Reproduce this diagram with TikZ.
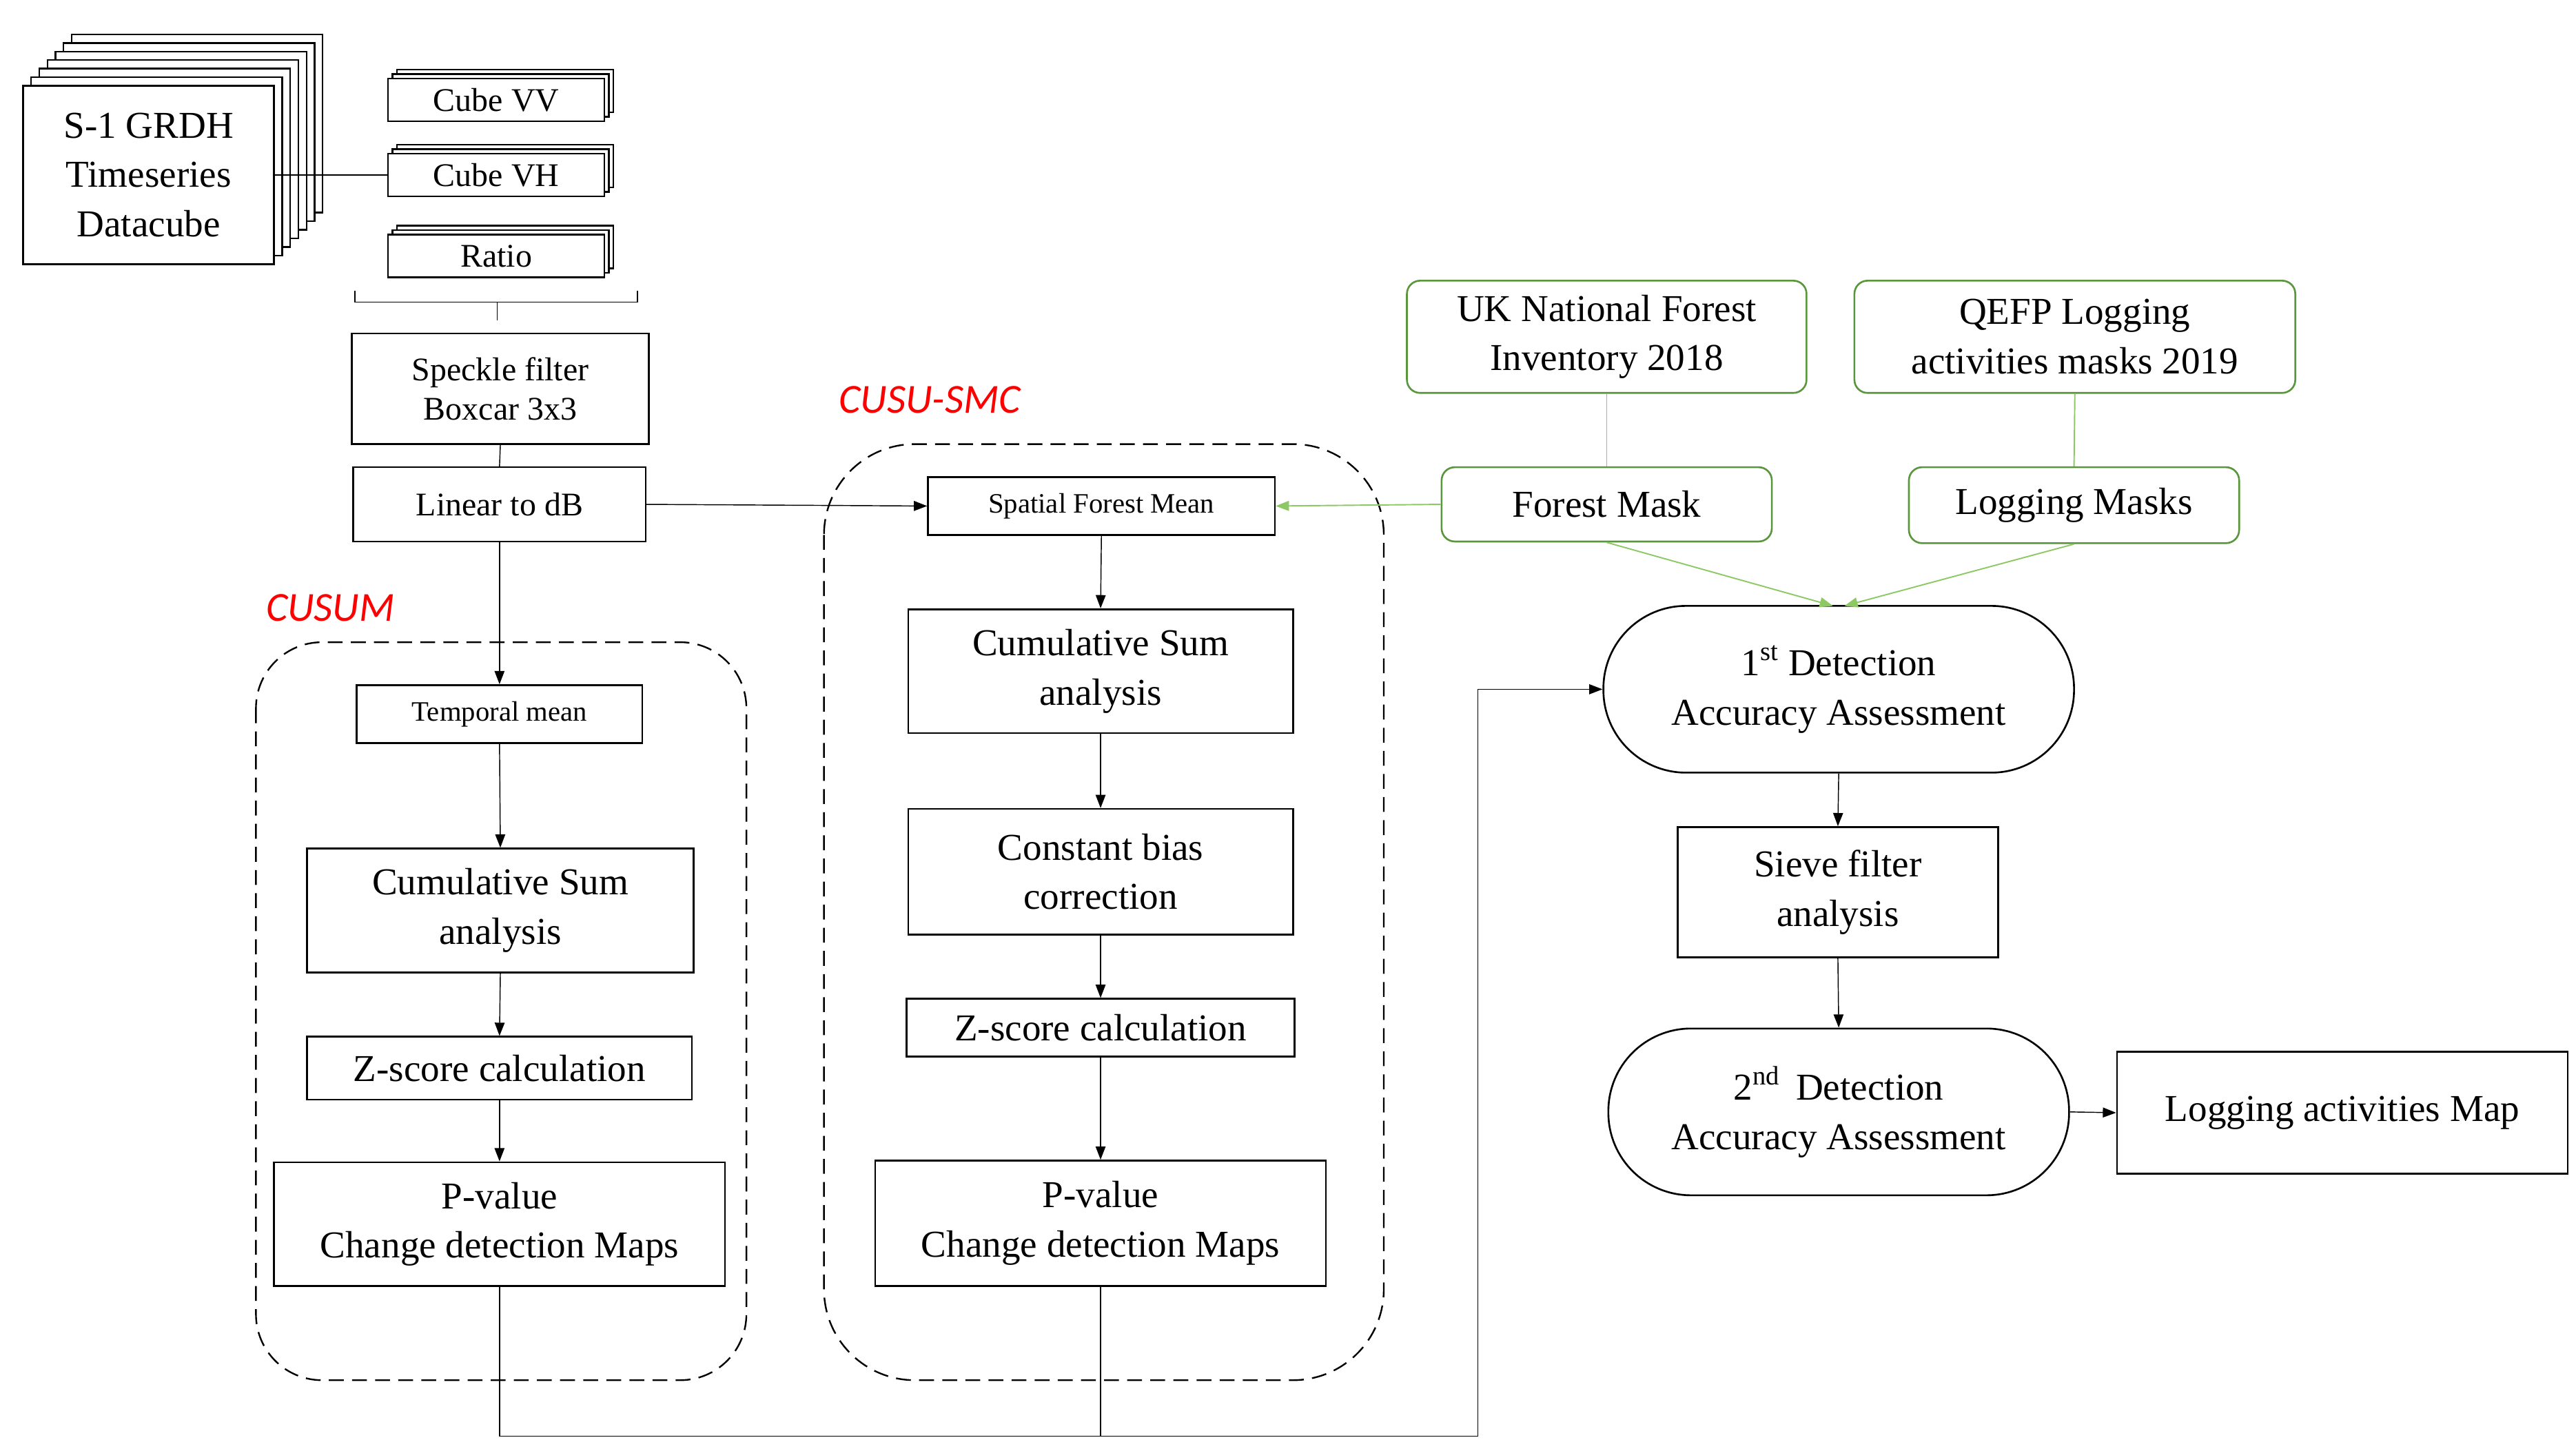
\documentclass[tikz,border=0pt]{standalone}
\usepackage{fontspec}
\setmainfont{Liberation Serif}
\newfontfamily\lblfont{Carlito}
\usetikzlibrary{arrows.meta}
\definecolor{gbord}{RGB}{90,150,60}
\definecolor{gline}{RGB}{140,200,100}
\begin{document}
\begin{tikzpicture}[x=1pt,y=-1pt,
  box/.style={draw,line width=1.1pt,fill=white,inner sep=0pt,align=center,font=\fontsize{23}{30}\selectfont},
  sbox/.style={box,font=\fontsize{17}{21}\selectfont},
  mbox/.style={box,font=\fontsize{20}{24}\selectfont},
  gbox/.style={draw=gbord,line width=1.1pt,rounded corners=8pt,inner sep=0pt,align=center,font=\fontsize{23}{30}\selectfont},
  pill/.style={box,rounded corners=50pt},
  arr/.style={-{Triangle[length=8pt,width=6pt]},line width=0.6pt},
  garr/.style={-{Triangle[length=8pt,width=6pt]},draw=gline,line width=0.8pt},
  ln/.style={line width=0.6pt},
  dbox/.style={draw,dashed,dash pattern=on 9pt off 5pt,line width=1pt},
  lbl/.style={font=\lblfont\itshape\fontsize{25}{30}\selectfont,text=red}]
\useasboundingbox (0,0) rectangle (1560,878.5);
% S-1 stack
\foreach \i in {6,5,...,1}
  \draw[line width=1pt,fill=white] ({14+4.9*\i},{52-5.2*\i}) rectangle ({166+4.9*\i},{160-5.2*\i});
\node[box,minimum width=152pt,minimum height=108pt] (s1) at (90,106) {S-1 GRDH\\Timeseries\\Datacube};
% cube stacks
\foreach \y/\n/\t in {60.5/cvv/Cube VV,106/cvh/Cube VH,155/rat/Ratio}{
  \foreach \i in {2,1}
    \draw[line width=1pt,fill=white] ({235+2.7*\i},{\y-13-2.7*\i}) rectangle ({366+2.7*\i},{\y+13-2.7*\i});
  \node[mbox,minimum width=131pt,minimum height=26pt] (\n) at (300.5,\y) {\t};
}
\draw[ln] (s1.east) -- (cvh.west);
% brace
\draw[ln] (215,176) -- (215,183) -- (386,183) -- (386,176);
\draw[ln] (301,183) -- (301,194);
\node[mbox,minimum width=180pt,minimum height=67pt] (spk) at (303,235.5) {Speckle filter\\Boxcar 3x3};
\node[mbox,minimum width=177pt,minimum height=45pt] (lin) at (302.5,305.5) {Linear to dB};
\draw[ln] (spk.south) -- (lin.north);
% CUSUM
\draw[dbox,rounded corners=40pt] (155,389) rectangle (452,836);
\node[lbl] (l1) at (200,368) {CUSUM};
\node[sbox,minimum width=173pt,minimum height=35pt] (tm) at (302.5,432.5) {Temporal mean};
\node[box,minimum width=234pt,minimum height=75pt] (cs1) at (303,551.5) {Cumulative Sum\\analysis};
\node[box,minimum width=233pt,minimum height=38pt] (z1) at (302.5,647) {Z-score calculation};
\node[box,minimum width=273pt,minimum height=75pt] (p1) at (302.5,741.5) {P-value\\Change detection Maps};
\draw[arr] (lin.south) -- (tm.north);
\draw[arr] (tm.south) -- (cs1.north);
\draw[arr] (cs1.south) -- (z1.north);
\draw[arr] (z1.south) -- (p1.north);
% CUSU-SMC
\draw[dbox,rounded corners=55pt] (499,269) rectangle (838,836);
\node[lbl] (l2) at (563,242) {CUSU-SMC};
\node[sbox,minimum width=210pt,minimum height=35pt] (sfm) at (667,306.5) {Spatial Forest Mean};
\node[box,minimum width=233pt,minimum height=75pt] (cs2) at (666.5,406.5) {Cumulative Sum\\analysis};
\node[box,minimum width=233pt,minimum height=76pt] (cb) at (666.5,528) {Constant bias\\correction};
\node[box,minimum width=235pt,minimum height=35pt] (z2) at (666.5,622.5) {Z-score calculation};
\node[box,minimum width=273pt,minimum height=76pt] (p2) at (666.5,741) {P-value\\Change detection Maps};
\draw[arr] (lin.east) -- (sfm.west);
\draw[arr] (sfm.south) -- (cs2.north);
\draw[arr] (cs2.south) -- (cb.north);
\draw[arr] (cb.south) -- (z2.north);
\draw[arr] (z2.south) -- (p2.north);
% green
\node[gbox,minimum width=242pt,minimum height=68pt] (uk) at (973,204) {UK National Forest\\Inventory 2018};
\node[gbox,minimum width=267pt,minimum height=68pt] (qe) at (1256.5,204) {QEFP Logging\\activities masks 2019};
\node[gbox,minimum width=200pt,minimum height=45pt] (fm) at (973,305.5) {Forest Mask};
\node[gbox,minimum width=200pt,minimum height=46pt] (lm) at (1256,306) {Logging Masks};
\draw[draw=gline,line width=0.8pt] (uk.south) -- (fm.north);
\draw[draw=gline,line width=0.8pt] (qe.south) -- (lm.north);
\draw[garr] (fm.west) -- (sfm.east);
% right
\node[pill,minimum width=285pt,minimum height=101pt] (d1) at (1113.5,417.5) {1\textsuperscript{st} Detection\\Accuracy Assessment};
\node[box,minimum width=194pt,minimum height=79pt] (sv) at (1113,540.5) {Sieve filter\\analysis};
\node[pill,minimum width=279pt,minimum height=101pt] (d2) at (1113.5,673.5) {2\textsuperscript{nd}\, Detection\\Accuracy Assessment};
\node[box,minimum width=273pt,minimum height=74pt] (mp) at (1418.5,674) {Logging activities Map};
\coordinate (t1) at (1110,367);
\coordinate (t2) at (1117,367);
\draw[garr] (fm.south) -- (t1);
\draw[garr] (lm.south) -- (t2);
\draw[arr] (d1.south) -- (sv.north);
\draw[arr] (sv.south) -- (d2.north);
\draw[arr] (d2.east) -- (mp.west);
% bottom connector
\coordinate (j) at (895,870);
\draw[arr] (p1.south) |- (j) |- (d1.west);
\draw[ln] (p2.south) -- (p2.south |- j);
\end{tikzpicture}
\end{document}
